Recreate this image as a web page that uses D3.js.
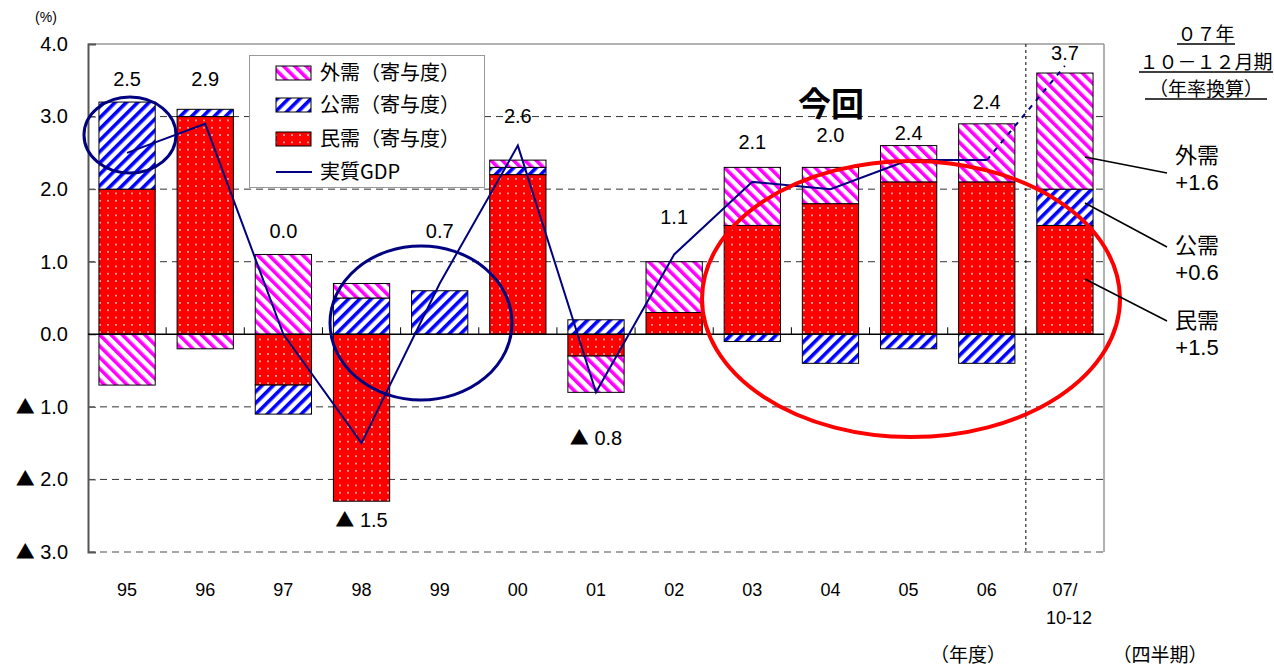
<!DOCTYPE html>
<html>
<head>
<meta charset="utf-8">
<script src="https://cdn.jsdelivr.net/npm/d3@7"></script>
<style>
  body { margin: 0; background: #fff; }
  svg { font-family: "Liberation Sans", Arial, sans-serif; }
  .jp { font-family: "Noto Sans CJK JP", "Noto Sans", sans-serif; }
</style>
</head>
<body>
<div id="chart"></div>
<script>
// Chart data
var categories = ["95","96","97","98","99","00","01","02","03","04","05","06","07"]
var privateDemand = [2.0, 3.0, -0.7, -2.3, 0.0, 2.2, -0.3, 0.3, 1.5, 1.8, 2.1, 2.1, 1.5]
var publicDemand  = [1.2, 0.1, -0.4, 0.5, 0.6, 0.1, 0.2, 0.0, -0.1, -0.4, -0.2, -0.4, 0.5]
var foreignDemand = [-0.7, -0.2, 1.1, 0.2, 0.0, 0.1, -0.5, 0.7, 0.8, 0.5, 0.5, 0.8, 1.6]
var realGDP = [2.5, 2.9, 0.0, -1.5, 0.7, 2.6, -0.8, 1.1, 2.1, 2.0, 2.4, 2.4, 3.7]
var yTicks = [4, 3, 2, 1, 0, -1, -2, -3]
var seriesNames = ["外需（寄与度）", "公需（寄与度）", "民需（寄与度）", "実質GDP"]

var width = 1274, height = 668
var plotLeft = 88, plotRight = 1104, plotTop = 44, plotBottom = 552

var svg = d3.select("#chart").append("svg")
  .attr("width", width).attr("height", height)

// patterns
var defs = svg.append("defs")
function stripes(id, color, angle){
  var p = defs.append("pattern").attr("id", id)
    .attr("patternUnits", "userSpaceOnUse")
    .attr("width", 8).attr("height", 8)
    .attr("patternTransform", "rotate(" + angle + ")")
  p.append("rect").attr("width", 8).attr("height", 8).attr("fill", "#fff")
  p.append("rect").attr("x", 0).attr("width", 3.6).attr("height", 8).attr("fill", color)
}
stripes("pForeign", "#ff00ff", -45)
stripes("pPublic", "#0000ff", 45)
var dots = defs.append("pattern").attr("id", "pPrivate")
  .attr("patternUnits", "userSpaceOnUse")
  .attr("width", 8).attr("height", 7.3)
dots.append("rect").attr("width", 8).attr("height", 7.3).attr("fill", "#ff0000")
dots.append("circle").attr("cx", 4).attr("cy", 3.6).attr("r", 0.9).attr("fill", "#fff").attr("opacity", 0.9)

var xscale = d3.scaleBand().domain(categories)
  .range([plotLeft, plotRight]).paddingInner(0.28).paddingOuter(0.14)
var yscale = d3.scaleLinear().domain([-3, 4]).range([plotBottom, plotTop])

// writes "▲ n.n" for negatives with a solid, larger triangle
var fmt = d3.format(".1f")
function signedLabel(sel, v){
  sel.text(null)
  if(v < 0){
    sel.append("tspan").attr("class", "jp").attr("font-size", 19).text("▲")
    sel.append("tspan").text(" " + fmt(-v))
  }else{
    sel.append("tspan").text(fmt(v))
  }
}

// frame and grid
svg.append("line").attr("x1", plotLeft).attr("x2", plotRight).attr("y1", plotTop).attr("y2", plotTop)
  .attr("stroke", "#999").attr("stroke-width", 1.5)
svg.append("line").attr("x1", plotRight).attr("x2", plotRight).attr("y1", plotTop).attr("y2", plotBottom)
  .attr("stroke", "#999").attr("stroke-width", 1.5)
svg.selectAll(".grid").data(yTicks.filter(d => d != 0 && d != 4))
  .enter().append("line")
  .attr("x1", plotLeft).attr("x2", plotRight)
  .attr("y1", d => yscale(d)).attr("y2", d => yscale(d))
  .attr("stroke", d => d == -3 ? "#888" : "#333")
  .attr("stroke-width", d => d == -3 ? 1.5 : 1)
  .attr("stroke-dasharray", "7,5")

// vertical separator between fiscal years and quarter
var sepX = xscale("07") - xscale.step() * xscale.paddingInner() / 2
svg.append("line").attr("x1", sepX).attr("x2", sepX).attr("y1", plotTop).attr("y2", plotBottom)
  .attr("stroke", "#000").attr("stroke-width", 1).attr("stroke-dasharray", "3,3")

// stacked bars
var table = categories.map(function(c, i){
  return {cat: c, priv: privateDemand[i], pub: publicDemand[i], fgn: foreignDemand[i]}
})
var stack = d3.stack().keys(["priv", "pub", "fgn"]).offset(d3.stackOffsetDiverging)
var fills = {priv: "url(#pPrivate)", pub: "url(#pPublic)", fgn: "url(#pForeign)"}
svg.selectAll("g.layer").data(stack(table)).enter().append("g")
  .attr("class", "layer")
  .attr("fill", d => fills[d.key])
  .selectAll("rect").data(d => d.filter(s => s[1] - s[0] != 0))
  .enter().append("rect")
  .attr("x", d => xscale(d.data.cat))
  .attr("width", xscale.bandwidth())
  .attr("y", d => yscale(d[1]))
  .attr("height", d => yscale(d[0]) - yscale(d[1]))
  .attr("stroke", "#000").attr("stroke-width", 1)

// y axis
var yaxis = d3.axisLeft(yscale).tickValues(yTicks).tickSize(-8).tickPadding(20)
var ag = svg.append("g").attr("transform", "translate(" + plotLeft + ",0)").call(yaxis)
ag.attr("font-family", null).attr("font-size", 20)
ag.select(".domain").attr("stroke", "#555").attr("stroke-width", 2)
ag.selectAll(".tick line").attr("stroke", "#555")
ag.selectAll(".tick text").attr("fill", "#000").each(function(d){ signedLabel(d3.select(this), d) })

// zero line with boundary ticks
svg.append("line").attr("x1", plotLeft).attr("x2", plotRight)
  .attr("y1", yscale(0)).attr("y2", yscale(0))
  .attr("stroke", "#000").attr("stroke-width", 1.5)
svg.selectAll(".ztick").data(categories.slice(1)).enter().append("line")
  .attr("x1", d => xscale(d) - xscale.step() * xscale.paddingInner() / 2)
  .attr("x2", d => xscale(d) - xscale.step() * xscale.paddingInner() / 2)
  .attr("y1", yscale(0)).attr("y2", yscale(0) - 7)
  .attr("stroke", "#000").attr("stroke-width", 1)

// x labels
svg.selectAll(".xl").data(categories).enter().append("text")
  .attr("x", d => xscale(d) + xscale.bandwidth() / 2)
  .attr("y", 596).attr("text-anchor", "middle").attr("font-size", 18)
  .text(d => d == "07" ? "07/" : d)
svg.append("text").attr("x", xscale("07") + xscale.bandwidth() / 2 + 4)
  .attr("y", 624).attr("text-anchor", "middle").attr("font-size", 18).text("10-12")

// GDP line
var cx = i => xscale(categories[i]) + xscale.bandwidth() / 2
var line = d3.line().x((d, i) => cx(i)).y(d => yscale(d))
svg.append("path").datum(realGDP.slice(0, 12))
  .attr("d", line).attr("fill", "none").attr("stroke", "#000080").attr("stroke-width", 2)
svg.append("path")
  .attr("d", d3.line().x(d => cx(d)).y(d => yscale(realGDP[d]))([11, 12]))
  .attr("fill", "none").attr("stroke", "#000080").attr("stroke-width", 2)
  .attr("stroke-dasharray", "5,6")

// GDP value labels (vertical placement in data units)
var labelAt = [3.52, 3.52, 1.42, -2.56, 1.42, 3.01, -1.43, 1.62, 2.65, 2.75, 2.78, 3.2, 3.87]
svg.selectAll(".vl").data(realGDP).enter().append("text")
  .attr("x", (d, i) => cx(i))
  .attr("y", (d, i) => yscale(labelAt[i]) + 7)
  .attr("text-anchor", "middle").attr("font-size", 20)
  .each(function(d){ signedLabel(d3.select(this), d) })

// unit
svg.append("text").attr("x", 46).attr("y", 22).attr("text-anchor", "middle")
  .attr("font-size", 14).text("(%)")

// legend
var lg = svg.append("g")
lg.append("rect").attr("x", 249.5).attr("y", 55.5).attr("width", 235).attr("height", 132)
  .attr("fill", "#fff").attr("stroke", "#999").attr("stroke-width", 1)
var legendFills = ["url(#pForeign)", "url(#pPublic)", "url(#pPrivate)"]
var legendY = [73, 105, 139, 172]
seriesNames.forEach(function(name, i){
  if(i < 3){
    lg.append("rect").attr("x", 276).attr("y", legendY[i] - 7).attr("width", 35).attr("height", 14)
      .attr("fill", legendFills[i]).attr("stroke", "#000").attr("stroke-width", 1)
  }else{
    lg.append("line").attr("x1", 276).attr("x2", 312).attr("y1", legendY[i]).attr("y2", legendY[i])
      .attr("stroke", "#000080").attr("stroke-width", 2)
  }
  var t = lg.append("text").attr("class", "jp").attr("x", 320).attr("y", legendY[i] + 7)
    .attr("font-size", 20).text(name)
  if(i < 3) t.attr("textLength", 140).attr("lengthAdjust", "spacing")
})

// 今回 marker
svg.append("text").attr("class", "jp").attr("x", 831).attr("y", 116)
  .attr("text-anchor", "middle").attr("font-size", 33).attr("font-weight", "bold").text("今回")

// highlight ellipses
svg.append("ellipse").attr("cx", 130).attr("cy", 135).attr("rx", 46).attr("ry", 38)
  .attr("fill", "none").attr("stroke", "#000080").attr("stroke-width", 3)
svg.append("ellipse").attr("cx", 421).attr("cy", 323).attr("rx", 91).attr("ry", 77)
  .attr("fill", "none").attr("stroke", "#000080").attr("stroke-width", 3)
svg.append("ellipse").attr("cx", 911).attr("cy", 299).attr("rx", 209).attr("ry", 138)
  .attr("fill", "none").attr("stroke", "#ff0000").attr("stroke-width", 4)

// quarter title, underlined
var titleLines = ["０７年", "１０－１２月期", "（年率換算）"]
var titleY = [41, 69, 96]
var titleW = [58, 134, 122]
titleLines.forEach(function(t, i){
  svg.append("text").attr("class", "jp").attr("x", 1206).attr("y", titleY[i])
    .attr("text-anchor", "middle").attr("font-size", 19).text(t)
  svg.append("line").attr("x1", 1206 - titleW[i] / 2).attr("x2", 1206 + titleW[i] / 2)
    .attr("y1", titleY[i] + 3).attr("y2", titleY[i] + 3)
    .attr("stroke", "#000").attr("stroke-width", 1.5)
})

// callouts for the latest quarter
var calloutNames = ["外需", "公需", "民需"]
var calloutVals = ["+1.6", "+0.6", "+1.5"]
var calloutFrom = [157, 203, 279]
var calloutTo = [173, 247, 321]
var calloutTextY = [155, 245, 320]
calloutNames.forEach(function(n, i){
  svg.append("line").attr("x1", 1085).attr("x2", 1167)
    .attr("y1", calloutFrom[i]).attr("y2", calloutTo[i])
    .attr("stroke", "#000").attr("stroke-width", 1.5)
  svg.append("text").attr("class", "jp").attr("x", 1197).attr("y", calloutTextY[i] + 8)
    .attr("text-anchor", "middle").attr("font-size", 22).text(n)
  svg.append("text").attr("x", 1197).attr("y", calloutTextY[i] + 35)
    .attr("text-anchor", "middle").attr("font-size", 22).text(calloutVals[i])
})

// period notes
svg.append("text").attr("class", "jp").attr("x", 968).attr("y", 662)
  .attr("text-anchor", "middle").attr("font-size", 19).text("（年度）")
svg.append("text").attr("class", "jp").attr("x", 1160).attr("y", 662)
  .attr("text-anchor", "middle").attr("font-size", 19).text("（四半期）")
</script>
</body>
</html>
